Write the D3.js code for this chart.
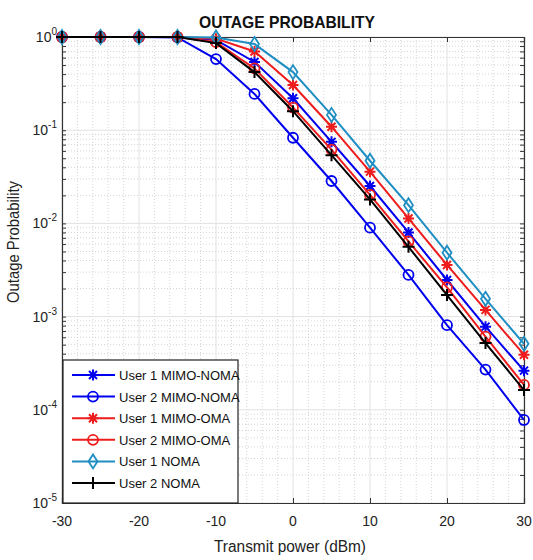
<!DOCTYPE html>
<html>
<head>
<meta charset="utf-8">
<script src="https://cdn.jsdelivr.net/npm/d3@7"></script>
<style>
  body { margin: 0; background: #fff; }
  text { font-family: "Liberation Sans Narrow", "Liberation Sans", Arial, sans-serif; }
</style>
</head>
<body>
<div id="chart"></div>
<script>
// transmit power (dBm)
const power = [-30, -25, -20, -15, -10, -5, 0, 5, 10, 15, 20, 25, 30]

const user1MimoNoma = [1, 1, 1, 1, 0.93, 0.54, 0.22, 0.075, 0.0252, 0.0080, 0.00247, 0.00078, 0.000263]
const user2MimoNoma = [1, 1, 1, 0.99, 0.58, 0.245, 0.083, 0.0285, 0.0090, 0.0028, 0.00081, 0.00027, 0.0000778]
const user1MimoOma = [1, 1, 1, 1, 0.96, 0.70, 0.305, 0.109, 0.0359, 0.0113, 0.00358, 0.00118, 0.00039]
const user2MimoOma = [1, 1, 1, 1, 0.88, 0.46, 0.175, 0.062, 0.0202, 0.0064, 0.00206, 0.00061, 0.000185]
const user1Noma = [1, 1, 1, 1, 0.99, 0.84, 0.42, 0.146, 0.047, 0.0157, 0.00485, 0.00155, 0.00051]
const user2Noma = [1, 1, 1, 1, 0.86, 0.42, 0.16, 0.054, 0.0181, 0.0056, 0.0017, 0.00052, 0.000163]

const xTicks = [-30, -20, -10, 0, 10, 20, 30]
const yExponents = [0, -1, -2, -3, -4, -5]

const series = [
    { name: "User 1 MIMO-NOMA", values: user1MimoNoma, color: "#0000f0", marker: "star" },
    { name: "User 2 MIMO-NOMA", values: user2MimoNoma, color: "#0000f0", marker: "circle" },
    { name: "User 1 MIMO-OMA", values: user1MimoOma, color: "#ee1c1c", marker: "star" },
    { name: "User 2 MIMO-OMA", values: user2MimoOma, color: "#ee1c1c", marker: "circle" },
    { name: "User 1 NOMA", values: user1Noma, color: "#1f8ec2", marker: "diamond" },
    { name: "User 2 NOMA", values: user2Noma, color: "#000000", marker: "plus" }
]

const width = 533
const height = 560
const plot = { left: 62, right: 524, top: 37, bottom: 503 }

const svg = d3.select("#chart")
    .append("svg")
    .attr("width", width)
    .attr("height", height)

const x = d3.scaleLinear().domain([-30, 30]).range([plot.left, plot.right])
const y = d3.scaleLog().domain([1e-5, 1]).range([plot.bottom, plot.top])

// grid: minor first, then major
const grid = svg.append("g")
const minorX = d3.range(-30, 31, 2).filter(v => v % 10 !== 0)
grid.selectAll(".mx")
    .data(minorX)
    .enter()
    .append("line")
    .attr("x1", d => x(d)).attr("x2", d => x(d))
    .attr("y1", plot.top).attr("y2", plot.bottom)
    .attr("stroke", "#d4d4d4")
    .attr("stroke-dasharray", "1,2")

const minorY = []
for (let e = -5; e < 0; e++) {
    for (let k = 2; k <= 9; k++) minorY.push(k * Math.pow(10, e))
}
grid.selectAll(".my")
    .data(minorY)
    .enter()
    .append("line")
    .attr("x1", plot.left).attr("x2", plot.right)
    .attr("y1", d => y(d)).attr("y2", d => y(d))
    .attr("stroke", "#d4d4d4")
    .attr("stroke-dasharray", "1,2")

grid.selectAll(".gx")
    .data(xTicks)
    .enter()
    .append("line")
    .attr("x1", d => x(d)).attr("x2", d => x(d))
    .attr("y1", plot.top).attr("y2", plot.bottom)
    .attr("stroke", "#e2e2e2")

grid.selectAll(".gy")
    .data(yExponents)
    .enter()
    .append("line")
    .attr("x1", plot.left).attr("x2", plot.right)
    .attr("y1", d => y(Math.pow(10, d))).attr("y2", d => y(Math.pow(10, d)))
    .attr("stroke", "#e2e2e2")

// axes (ticks inward, box on)
const axisColor = "#333"
const yTickVals = minorY.concat(yExponents.map(e => Math.pow(10, e)))
const xAxisB = d3.axisBottom(x).tickValues(xTicks).tickSize(-5).tickFormat("")
const xAxisT = d3.axisTop(x).tickValues(xTicks).tickSize(-5).tickFormat("")
const yAxisL = d3.axisLeft(y).tickValues(yTickVals).tickSize(-4).tickFormat("")
const yAxisR = d3.axisRight(y).tickValues(yTickVals).tickSize(-4).tickFormat("")

const axes = [
    svg.append("g").attr("transform", `translate(0,${plot.bottom})`).call(xAxisB),
    svg.append("g").attr("transform", `translate(0,${plot.top})`).call(xAxisT),
    svg.append("g").attr("transform", `translate(${plot.left},0)`).call(yAxisL),
    svg.append("g").attr("transform", `translate(${plot.right},0)`).call(yAxisR)
]
axes.forEach(a => {
    a.selectAll("path").attr("stroke", axisColor).attr("stroke-width", 1.2)
    a.selectAll("line").attr("stroke", axisColor)
})

// tick labels
svg.append("g")
    .selectAll("text")
    .data(xTicks)
    .enter()
    .append("text")
    .attr("x", d => x(d))
    .attr("y", 526)
    .attr("text-anchor", "middle")
    .style("font-size", "14px")
    .attr("fill", "#222")
    .text(d => d)

const yLabels = svg.append("g")
    .selectAll("text")
    .data(yExponents)
    .enter()
    .append("text")
    .attr("x", 57)
    .attr("y", d => y(Math.pow(10, d)) + 5)
    .attr("text-anchor", "end")
    .style("font-size", "14px")
    .attr("fill", "#222")
yLabels.append("tspan").text("10")
yLabels.append("tspan")
    .attr("dy", -7)
    .style("font-size", "10px")
    .text(d => d)

// titles (squeezed a little, the source font is narrow)
svg.append("text")
    .attr("x", 287)
    .attr("y", 28)
    .attr("text-anchor", "middle")
    .attr("textLength", 176)
    .attr("lengthAdjust", "spacingAndGlyphs")
    .style("font-size", "17px")
    .style("font-weight", "bold")
    .attr("fill", "#111")
    .text("OUTAGE PROBABILITY")

svg.append("text")
    .attr("x", 290)
    .attr("y", 552)
    .attr("text-anchor", "middle")
    .attr("textLength", 152)
    .attr("lengthAdjust", "spacingAndGlyphs")
    .style("font-size", "16px")
    .attr("fill", "#222")
    .text("Transmit power (dBm)")

svg.append("text")
    .attr("transform", "translate(19,242) rotate(-90)")
    .attr("text-anchor", "middle")
    .attr("textLength", 122)
    .attr("lengthAdjust", "spacingAndGlyphs")
    .style("font-size", "16px")
    .attr("fill", "#222")
    .text("Outage Probability")

// markers
const drawMarker = (g, type, color) => {
    if (type === "circle") {
        g.append("circle").attr("r", 5).attr("fill", "none").attr("stroke", color).attr("stroke-width", 1.8)
    } else if (type === "diamond") {
        g.append("path").attr("d", "M0,-7L4.5,0L0,7L-4.5,0Z").attr("fill", "none").attr("stroke", color).attr("stroke-width", 1.8)
    } else if (type === "plus") {
        g.append("path").attr("d", "M-6,0H6M0,-6V6").attr("stroke", color).attr("stroke-width", 2)
    } else {
        g.append("path").attr("d", "M-5.5,0H5.5M0,-5.5V5.5M-4,-4L4,4M-4,4L4,-4").attr("stroke", color).attr("stroke-width", 2)
    }
}

const line = d3.line()
    .x(d => x(d[0]))
    .y(d => y(d[1]))

const lines = svg.append("g")
series.forEach(s => {
    const pts = power.map((p, i) => [p, s.values[i]])
    lines.append("path")
        .datum(pts)
        .attr("d", line)
        .attr("fill", "none")
        .attr("stroke", s.color)
        .attr("stroke-width", 2)
    lines.selectAll(null)
        .data(pts)
        .enter()
        .append("g")
        .attr("transform", d => `translate(${x(d[0])},${y(d[1])})`)
        .each(function () { drawMarker(d3.select(this), s.marker, s.color) })
})

// legend
const legend = svg.append("g")
legend.append("rect")
    .attr("x", 63).attr("y", 360)
    .attr("width", 175).attr("height", 143)
    .attr("fill", "#fff")
    .attr("stroke", "#222")
    .attr("stroke-width", 1.2)

series.forEach((s, i) => {
    const ly = 375 + i * 21.6
    const row = legend.append("g")
    row.append("line")
        .attr("x1", 72).attr("x2", 115)
        .attr("y1", ly).attr("y2", ly)
        .attr("stroke", s.color)
        .attr("stroke-width", 2)
    drawMarker(row.append("g").attr("transform", `translate(93,${ly})`), s.marker, s.color)
    row.append("text")
        .attr("x", 119)
        .attr("y", ly + 5)
        .style("font-size", "13px")
        .attr("fill", "#111")
        .text(s.name)
})
</script>
</body>
</html>
